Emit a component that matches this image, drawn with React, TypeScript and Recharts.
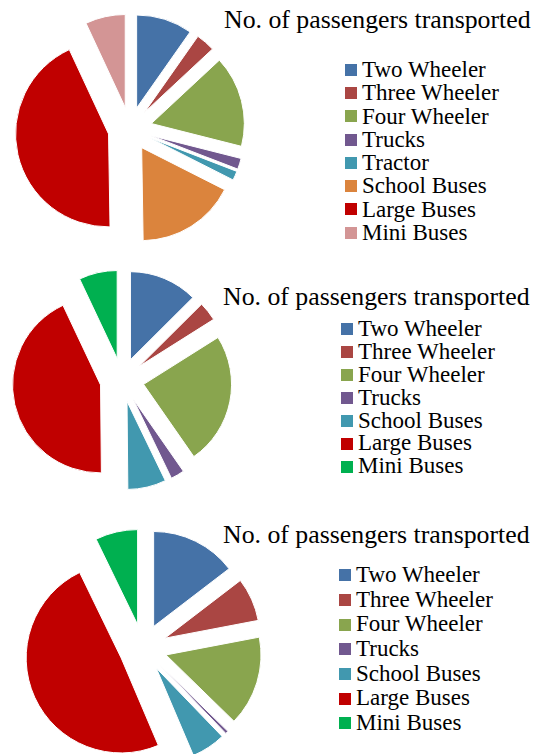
import { PieChart, Pie, Legend, Tooltip, Sector } from "recharts";

const titleText = "No. of passengers transported";

// chart 1
const names1 = ["Two Wheeler", "Three Wheeler", "Four Wheeler", "Trucks", "Tractor", "School Buses", "Large Buses", "Mini Buses"];
const values1 = [9.7, 3.3, 15.8, 1.9, 1.6, 17.2, 43.1, 6.9];
const colors1 = ["#4572A7", "#AA4643", "#89A54E", "#71588F", "#4198AF", "#DB843D", "#C00000", "#D39595"];

// chart 2
const names2 = ["Two Wheeler", "Three Wheeler", "Four Wheeler", "Trucks", "School Buses", "Large Buses", "Mini Buses"];
const values2 = [12.5, 3.5, 24.2, 2.5, 7.0, 43.0, 7.0];
const colors2 = ["#4572A7", "#AA4643", "#89A54E", "#71588F", "#4198AF", "#C00000", "#00B050"];

// chart 3
const names3 = ["Two Wheeler", "Three Wheeler", "Four Wheeler", "Trucks", "School Buses", "Large Buses", "Mini Buses"];
const values3 = [14.6, 7.4, 15.3, 0.5, 5.8, 49.2, 7.2];
const colors3 = ["#4572A7", "#AA4643", "#89A54E", "#71588F", "#4198AF", "#C00000", "#00B050"];

const serif = "'Liberation Serif', 'Times New Roman', Times, 'DejaVu Serif', 'Noto Serif', Tinos, serif";
const RADIAN = Math.PI / 180;

type Row = { name: string; value: number; fill: string };

const build = (names: string[], values: number[], colors: string[]): Row[] =>
  names.map((name, i) => ({ name, value: values[i], fill: colors[i] }));

// pushes each slice out along its middle angle (like an exploded pie)
const explodedShape = (offset: number) => (props: any) => {
  const { cx, cy, midAngle, innerRadius, outerRadius, startAngle, endAngle, fill } = props;
  const dx = offset * Math.cos(-midAngle * RADIAN);
  const dy = offset * Math.sin(-midAngle * RADIAN);
  return (
    <Sector
      cx={cx + dx}
      cy={cy + dy}
      innerRadius={innerRadius}
      outerRadius={outerRadius}
      startAngle={startAngle}
      endAngle={endAngle}
      fill={fill}
      stroke="#fff"
      strokeWidth={1}
    />
  );
};

// legend keeps the data order (recharts sorts the payload by name otherwise)
const makeLegend = (rows: Row[], rowH: number) => () => (
  <div>
    {rows.map((r) => (
      <div key={r.name} style={{ display: "flex", alignItems: "center", height: rowH }}>
        <span style={{ width: 12, height: 12, background: r.fill, marginRight: 5, flexShrink: 0 }} />
        <span
          style={{
            fontFamily: serif,
            fontSize: 23,
            lineHeight: `${rowH}px`,
            color: "#000",
            whiteSpace: "nowrap",
          }}
        >
          {r.name}
        </span>
      </div>
    ))}
  </div>
);

type PanelProps = {
  top: number;
  height: number;
  data: Row[];
  cx: number;
  cy: number;
  r: number;
  explode: number;
  titleX: number;
  titleTop: number;
  legendX: number;
  legendTop: number;
  rowH: number;
};

function Panel(p: PanelProps) {
  const shape = explodedShape(p.explode);
  return (
    <div style={{ position: "absolute", left: 0, top: p.top, width: 540, height: p.height }}>
      <PieChart width={540} height={p.height} margin={{ top: 0, right: 0, bottom: 0, left: 0 }}>
        <Pie
          data={p.data}
          dataKey="value"
          nameKey="name"
          cx={p.cx}
          cy={p.cy}
          outerRadius={p.r}
          startAngle={90}
          endAngle={-270}
          stroke="#fff"
          isAnimationActive={false}
          shape={shape}
          activeShape={shape}
          inactiveShape={shape}
        />
        <Tooltip defaultIndex={0} content={() => null} cursor={false} />
        <Legend
          layout="vertical"
          align="right"
          verticalAlign="top"
          content={makeLegend(p.data, p.rowH)}
          wrapperStyle={{ position: "absolute", left: p.legendX, top: p.legendTop, width: 195 }}
        />
      </PieChart>
      <div
        style={{
          position: "absolute",
          left: p.titleX,
          top: p.titleTop,
          fontFamily: serif,
          fontSize: 25.8,
          lineHeight: "25px",
          color: "#000",
          whiteSpace: "nowrap",
        }}
      >
        {titleText}
      </div>
    </div>
  );
}

export default function App() {
  return (
    <div style={{ position: "absolute", left: 0, top: 0, width: 540, height: 754, background: "#fff" }}>
      <Panel
        top={0}
        height={250}
        data={build(names1, values1, colors1)}
        cx={130}
        cy={129}
        r={93}
        explode={22}
        titleX={224}
        titleTop={7}
        legendX={345}
        legendTop={58}
        rowH={23.3}
      />
      <Panel
        top={250}
        height={245}
        data={build(names2, values2, colors2)}
        cx={122}
        cy={130}
        r={88}
        explode={22}
        titleX={223}
        titleTop={34}
        legendX={341}
        legendTop={68}
        rowH={22.9}
      />
      <Panel
        top={495}
        height={259}
        data={build(names3, values3, colors3)}
        cx={143}
        cy={153}
        r={95}
        explode={24}
        titleX={223}
        titleTop={27}
        legendX={339}
        legendTop={68}
        rowH={24.7}
      />
    </div>
  );
}
